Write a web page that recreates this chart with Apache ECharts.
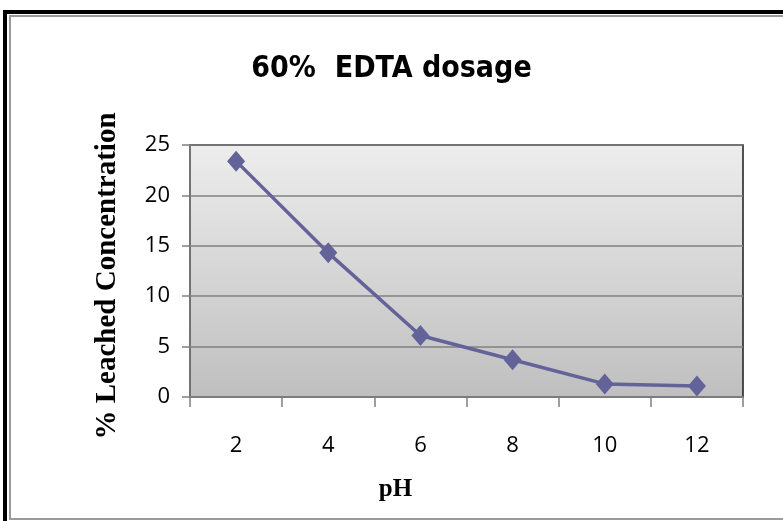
<!DOCTYPE html>
<html>
  <head>
    <meta charset="UTF-8">
    <title>60% EDTA dosage</title>
    <script src="https://cdn.jsdelivr.net/npm/echarts@6/dist/echarts.min.js"></script>
    <style>
      body { margin: 0; background: #fff; overflow: hidden; }
      #wrap { position: relative; width: 783px; height: 521px; overflow: hidden; }
      .frame-outer { position: absolute; left: 3px; top: 10px; width: 1200px; height: 800px; border: 4px solid #000; }
      .frame-inner { position: absolute; left: 9px; top: 15px; width: 1200px; height: 501px; border: 2px solid #9a9a9a; }
      #chart { position: absolute; left: 0; top: 0; width: 783px; height: 521px; }
    </style>
  </head>
  <body>
    <div id="wrap">
      <div class="frame-outer"></div>
      <div class="frame-inner"></div>
      <div id="chart"></div>
    </div>
    <script>
// pH values (categories) and leached concentration (%)
const phLabels = ['2', '4', '6', '8', '10', '12'];
const leached = [23.4, 14.3, 6.1, 3.7, 1.3, 1.1];

const chart = echarts.init(document.getElementById('chart'), null, {renderer: 'canvas'});

chart.setOption({
  backgroundColor: 'transparent',
  animation: false,
  title: {
    text: '60%  EDTA dosage',
    left: 'center',
    top: 49,
    padding: [5, 0, 5, 16],
    textStyle: {
      fontFamily: '"Liberation Sans Narrow", "DejaVu Sans Condensed", sans-serif',
      fontWeight: 'bold',
      fontSize: 30,
      color: '#000'
    }
  },
  grid: {
    left: 190, right: 40, top: 145, bottom: 124,
    show: true,
    borderColor: '#1a1a1a',
    borderWidth: 1.5,
    backgroundColor: new echarts.graphic.LinearGradient(0, 0, 0, 1, [
      {offset: 0, color: '#ededed'},
      {offset: 1, color: '#bfbfbf'}
    ])
  },
  xAxis: {
    type: 'category',
    data: phLabels,
    boundaryGap: true,
    name: 'pH',
    nameLocation: 'middle',
    nameGap: 80,
    nameTextStyle: {
      fontFamily: '"Liberation Serif", serif', fontWeight: 'bold', fontSize: 25, color: '#000',
      padding: [0, 142, 0, 0]
    },
    axisLine: {lineStyle: {color: '#808080', width: 1.5}},
    axisTick: {show: true, length: 10, lineStyle: {color: '#808080', width: 1.5}},
    axisLabel: {margin: 38, fontFamily: '"Open Sans", sans-serif', fontSize: 22, color: '#000'}
  },
  yAxis: {
    type: 'value',
    min: 0, max: 25, interval: 5,
    name: '% Leached Concentration',
    nameLocation: 'middle',
    nameGap: 68,
    nameTextStyle: {
      fontFamily: '"Liberation Serif", serif', fontWeight: 'bold', fontSize: 29, color: '#000',
      padding: [0, 10, 0, 0]
    },
    axisLine: {show: true, lineStyle: {color: '#808080', width: 1.5}},
    axisTick: {show: true, length: 8, lineStyle: {color: '#808080', width: 1.5}},
    axisLabel: {margin: 20, fontFamily: '"Open Sans", sans-serif', fontSize: 22, color: '#000'},
    splitLine: {lineStyle: {color: '#808080', width: 1.5}}
  },
  series: [{
    type: 'line',
    data: leached,
    symbol: 'diamond',
    symbolSize: [18, 21],
    lineStyle: {color: '#63639a', width: 3.5},
    itemStyle: {color: '#63639a'}
  }]
});
    </script>
  </body>
</html>
